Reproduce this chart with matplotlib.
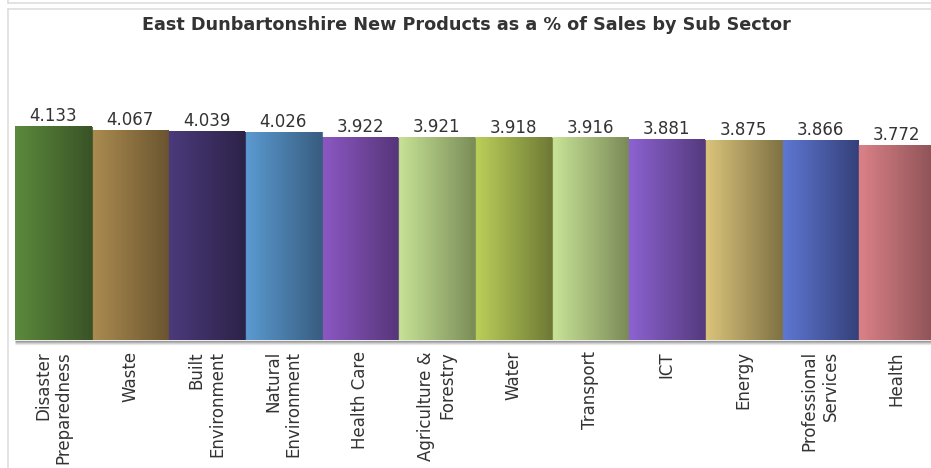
import matplotlib
matplotlib.use("Agg")
import matplotlib.pyplot as plt
import numpy as np
from matplotlib.colors import LinearSegmentedColormap
from matplotlib.lines import Line2D
from matplotlib.transforms import ScaledTranslation

categories = [
    "Disaster\nPreparedness", "Waste", "Built\nEnvironment", "Natural\nEnvironment",
    "Health Care", "Agriculture &\nForestry", "Water", "Transport", "ICT",
    "Energy", "Professional\nServices", "Health",
]
values = [4.133, 4.067, 4.039, 4.026, 3.922, 3.921, 3.918, 3.916, 3.881, 3.875, 3.866, 3.772]
light_colors = ["#5b8a3c", "#ab8c50", "#4c3a7c", "#5b9bd2", "#8c58c4", "#c8e496",
                "#bcd05a", "#cae598", "#8d63d2", "#dcc57c", "#5f78d4", "#dc8288"]
dark_colors = ["#3a5326", "#6b5530", "#2c2348", "#385d80", "#563579", "#7a8d58",
               "#6e7a35", "#7a8a58", "#553a7e", "#7f7244", "#344079", "#8c5256"]
title = "East Dunbartonshire New Products as a % of Sales by Sub Sector"

W, H = 931, 468
fig = plt.figure(figsize=(W / 100, H / 100), dpi=100)
fig.patch.set_facecolor("white")

# panel frame lines
frame_col = "#dedede"
fig.add_artist(Line2D([8 / W, 1], [1 - 2.5 / H, 1 - 2.5 / H], color=frame_col, lw=1.2))
fig.add_artist(Line2D([8 / W, 8 / W], [1, 1 - 2.5 / H], color=frame_col, lw=1.2))
fig.add_artist(Line2D([8 / W, 1], [1 - 8.5 / H, 1 - 8.5 / H], color=frame_col, lw=1.2))
fig.add_artist(Line2D([8 / W, 8 / W], [0, 1 - 8.5 / H], color=frame_col, lw=1.2))

bar_px = 76.67
left_px, base_px = 15, 340
px_per_unit = 51.6
ymax = 5.0
ax = fig.add_axes([left_px / W, (H - base_px) / H, (W - left_px) / W, ymax * px_per_unit / H])
ax.set_xlim(-0.5, -0.5 + (W - left_px) / bar_px)
ax.set_ylim(0, ymax)
ax.axis("off")
ax.set_facecolor("none")

x = np.arange(len(categories))
bars = ax.bar(x, values, width=1.0, color="none", edgecolor="none")

# baseline shadow under the bars
for k, a in enumerate([0.55, 0.35, 0.2, 0.1]):
    tr = ax.transData + ScaledTranslation(0, -(k + 0.5) / 100, fig.dpi_scale_trans)
    ax.plot([-0.5, len(categories)], [0, 0], color="#555555", alpha=a, lw=1.0,
            transform=tr, clip_on=False, solid_capstyle="butt")

grad = np.linspace(0, 1, 256).reshape(1, -1)
for b, c0, c1 in zip(bars, light_colors, dark_colors):
    cmap = LinearSegmentedColormap.from_list("g", [c0, c1])
    x0, w, h = b.get_x(), b.get_width(), b.get_height()
    ax.imshow(grad, cmap=cmap, aspect="auto", extent=[x0, x0 + w, 0, h],
              interpolation="bicubic", zorder=2)
    # thin darker edge between bars
    ax.plot([x0 + w, x0 + w], [0, h], color=c1, lw=0.8, alpha=0.8, zorder=3)

for xi, v in zip(x, values):
    ax.annotate(f"{v:.3f}", xy=(xi, v), xytext=(0, 3.8), textcoords="offset points",
                ha="center", va="baseline", fontsize=12, color="#333333",
                annotation_clip=False)

# category labels below the bars
for xi, lab in zip(x, categories):
    ax.annotate(lab, xy=(xi, 0), xytext=(0, -8), textcoords="offset points",
                ha="center", va="top", rotation=90, multialignment="right",
                fontsize=12, color="#333333", annotation_clip=False)

fig.text(466 / W, 1 - 25 / H, title, ha="center", va="center", fontsize=12.7,
         fontweight="bold", color="#333333")

fig.savefig("out.png", dpi=100, facecolor="white")
